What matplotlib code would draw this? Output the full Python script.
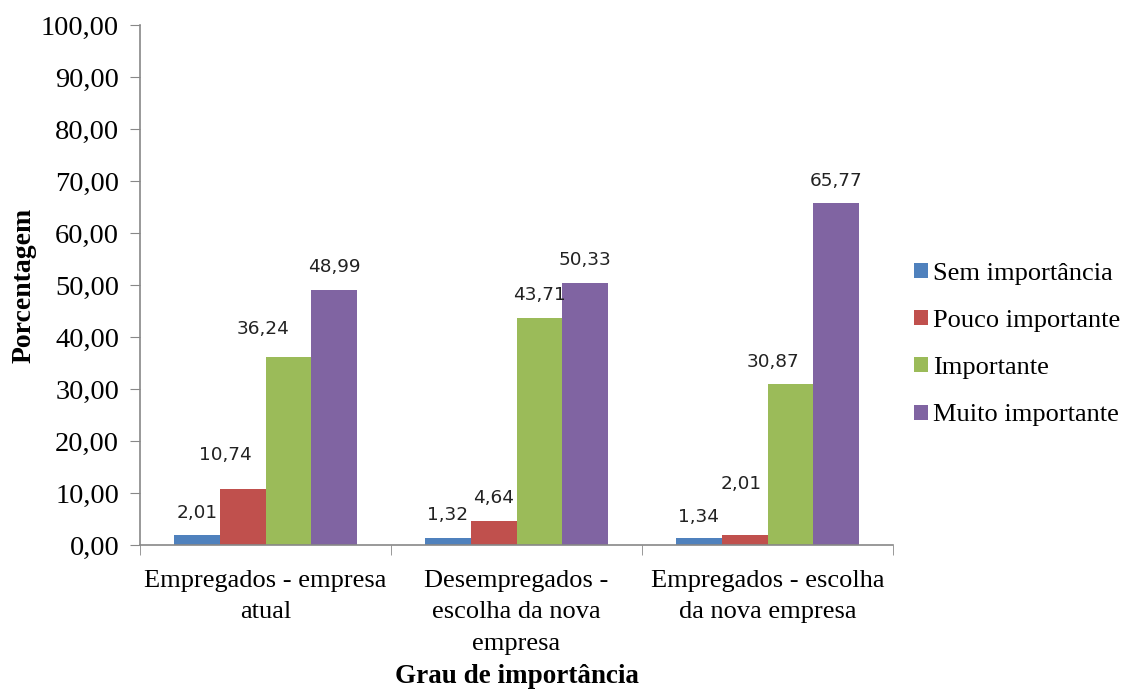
import matplotlib
matplotlib.use("Agg")
import matplotlib.pyplot as plt
import numpy as np

categories = ["Empregados - empresa\natual",
              "Desempregados -\nescolha da nova\nempresa",
              "Empregados - escolha\nda nova empresa"]
series_names = ["Sem importância", "Pouco importante", "Importante", "Muito importante"]
sem_importancia = [2.01, 1.32, 1.34]
pouco_importante = [10.74, 4.64, 2.01]
importante = [36.24, 43.71, 30.87]
muito_importante = [48.99, 50.33, 65.77]
colors = ["#4F81BD", "#C0504D", "#9BBB59", "#8064A2"]

# label nudges in pixels (dx, dy above bar top), per series and group
label_dx = [[0, 0, 0], [-17, 0, -3], [-25, 0, -17], [0, 0, 0]]
label_dy = [[22, 23, 21], [34, 23, 51], [28, 23, 22], [23, 23, 22]]

plt.rcParams["font.family"] = ["Liberation Serif", "DejaVu Serif"]

fig = plt.figure(figsize=(11.29, 6.91), dpi=100)
ax = fig.add_axes([140 / 1129, 1 - 545 / 691, 753 / 1129, 520 / 691])

x = np.arange(len(categories))
w = 0.182
data = [sem_importancia, pouco_importante, importante, muito_importante]
for i, (vals, name, c) in enumerate(zip(data, series_names, colors)):
    xs = x + (i - 1.5) * w
    ax.bar(xs, vals, width=w, color=c, label=name, zorder=2)
    for j, (xx, v) in enumerate(zip(xs, vals)):
        ax.annotate(f"{v:.2f}".replace(".", ","), xy=(xx, v),
                    xytext=(label_dx[i][j], label_dy[i][j]),
                    textcoords="offset pixels", ha="center", va="center",
                    fontsize=13.3, family="DejaVu Sans", color="#222222")

ax.set_xlim(-0.5, 2.5)
ax.set_ylim(0, 100)
ax.set_yticks(np.arange(0, 101, 10))
ax.set_yticklabels([f"{t:.2f}".replace(".", ",") for t in np.arange(0, 101, 10)],
                   fontsize=20.5)
ax.set_xticks(x)
ax.set_xticklabels(categories, fontsize=19, linespacing=1.55)
ax.set_xticks([-0.5, 0.5, 1.5, 2.5], minor=True)
ax.tick_params(axis="x", which="major", length=0, pad=18)
ax.tick_params(axis="x", which="minor", length=7, color="#888888", direction="out")
ax.tick_params(axis="y", length=7, color="#888888", direction="out", pad=8)
for s in ("top", "right"):
    ax.spines[s].set_visible(False)
for s in ("left", "bottom"):
    ax.spines[s].set_color("#888888")
    ax.spines[s].set_linewidth(1.2)

ax.set_ylabel("Porcentagem", fontsize=20, fontweight="bold", labelpad=3)
ax.set_xlabel("Grau de importância", fontsize=19.5, fontweight="bold", labelpad=6.5)

ax.legend(loc="center left", bbox_to_anchor=(0.997, 0.385), frameon=False,
          fontsize=19, handlelength=0.5, handleheight=0.5, handletextpad=0.2,
          labelspacing=0.95)

fig.savefig("out.png", dpi=100)
